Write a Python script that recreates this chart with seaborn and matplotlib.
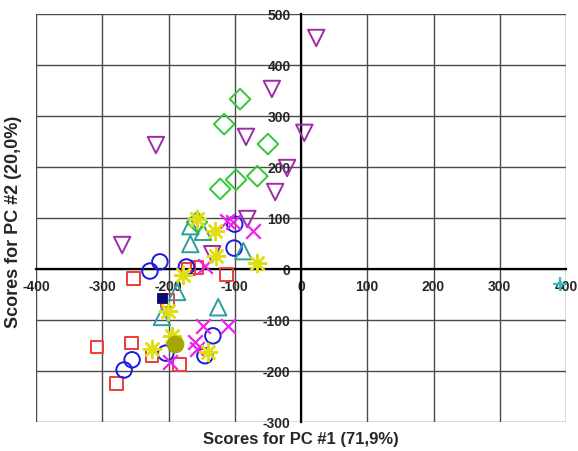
import numpy as np
import pandas as pd
import matplotlib
matplotlib.use("Agg")
import matplotlib.pyplot as plt
import seaborn as sns

# ---- data ----
sq_red_x = [-253, -308, -256, -225, -183, -279, -201, -170, -157, -112]
sq_red_y = [-18, -153, -145, -169, -188, -224, -61, 0, 3, -10]

circ_blue_x = [-213, -228, -173, -100, -101, -133, -145, -204, -255, -267]
circ_blue_y = [14, -4, 4, 88, 41, -131, -170, -165, -178, -198]

tri_cyan_x = [-167, -148, -167, -87, -187, -125, -210]
tri_cyan_y = [84, 73, 49, 35, -45, -75, -94]

dia_green_x = [-92, -116, -50, -122, -98, -66, -157]
dia_green_y = [333, 284, 245, 157, 175, 182, 92]

tri_purple_x = [23, -44, 5, -83, -219, -21, -39, -270, -81, -134]
tri_purple_y = [453, 353, 267, 259, 243, 198, 151, 47, 98, 29]

x_mag_x = [-112, -103, -72, -145, -148, -110, -160, -157, -198]
x_mag_y = [94, 92, 75, 6, -112, -112, -143, -157, -182]

star_yel_x = [-157, -130, -128, -66, -178, -201, -195, -225, -140]
star_yel_y = [98, 75, 25, 12, -12, -82, -131, -157, -163]

sq_navy_x = [-210]
sq_navy_y = [-57]

circ_olive_x = [-190]
circ_olive_y = [-147]

plus_cyan_x = [391]
plus_cyan_y = [-29]

# ---- figure ----
sns.set_style("white")
plt.rcParams["font.family"] = ["Liberation Sans", "DejaVu Sans"]

fig = plt.figure(figsize=(5.78, 4.52), dpi=100)
ax = fig.add_axes([36 / 578, 1 - 423 / 452, 530 / 578, 408 / 452])

ax.set_xlim(-400, 400)
ax.set_ylim(-300, 500)
ax.set_xticks(np.arange(-400, 401, 100))
ax.set_yticks(np.arange(-300, 501, 100))
ax.grid(True, color="#4a4a4a", linewidth=1.0)
ax.set_axisbelow(True)

# axes crossing at the origin
for s in ["top", "right"]:
    ax.spines[s].set_visible(False)
ax.spines["left"].set_position(("data", 0))
ax.spines["bottom"].set_position(("data", 0))
ax.spines["left"].set_color("black")
ax.spines["bottom"].set_color("black")
ax.spines["left"].set_linewidth(1.6)
ax.spines["bottom"].set_linewidth(1.6)
ax.tick_params(axis="both", direction="inout", length=7, width=1.6, color="black",
               labelsize=10, pad=4)
ax.xaxis.set_major_formatter(plt.FuncFormatter(lambda v, p: f"{int(v)}"))
ax.yaxis.set_major_formatter(plt.FuncFormatter(lambda v, p: f"{int(v)}"))
for lab in ax.get_xticklabels() + ax.get_yticklabels():
    lab.set_fontweight("bold")

def open_pts(xs, ys, marker, color, size, lw=1.4):
    sns.scatterplot(x=xs, y=ys, marker=marker, s=size, color=color,
                    facecolors="none", edgecolor=color, linewidth=lw, ax=ax,
                    zorder=3, legend=False)

open_pts(sq_red_x, sq_red_y, "s", "#f03a3a", 85)
open_pts(circ_blue_x, circ_blue_y, "o", "#1a1ae0", 125)
open_pts(tri_cyan_x, tri_cyan_y, "^", "#2a9e9e", 140)
open_pts(dia_green_x, dia_green_y, "D", "#33c833", 110)
open_pts(tri_purple_x, tri_purple_y, "v", "#a02aa8", 140)

sns.scatterplot(x=x_mag_x, y=x_mag_y, marker="x", s=110, color="#ee22ee",
                linewidth=1.6, ax=ax, zorder=3, legend=False)
sns.scatterplot(x=star_yel_x, y=star_yel_y, marker=(8, 2, 0), s=150, color="#dede10",
                linewidth=1.8, ax=ax, zorder=3, legend=False)
sns.scatterplot(x=sq_navy_x, y=sq_navy_y, marker="s", s=55, color="#0a0a70",
                edgecolor="#0a0a70", ax=ax, zorder=3, legend=False)
sns.scatterplot(x=circ_olive_x, y=circ_olive_y, marker="o", s=140, color="#a6a600",
                edgecolor="#a6a600", ax=ax, zorder=3, legend=False)
sns.scatterplot(x=plus_cyan_x, y=plus_cyan_y, marker="+", s=100, color="#22c0c8",
                linewidth=1.6, ax=ax, zorder=3, legend=False)

ax.set_xlabel("")
ax.set_ylabel("")
fig.text(301 / 578, 1 - 440 / 452, "Scores for PC #1 (71,9%)", ha="center", va="center",
         fontsize=12, fontweight="bold")
fig.text(14 / 578, 1 - 222 / 452, "Scores for PC #2 (20,0%)", ha="center", va="center",
         rotation=90, fontsize=13, fontweight="bold")

fig.savefig("out.png", dpi=100)
